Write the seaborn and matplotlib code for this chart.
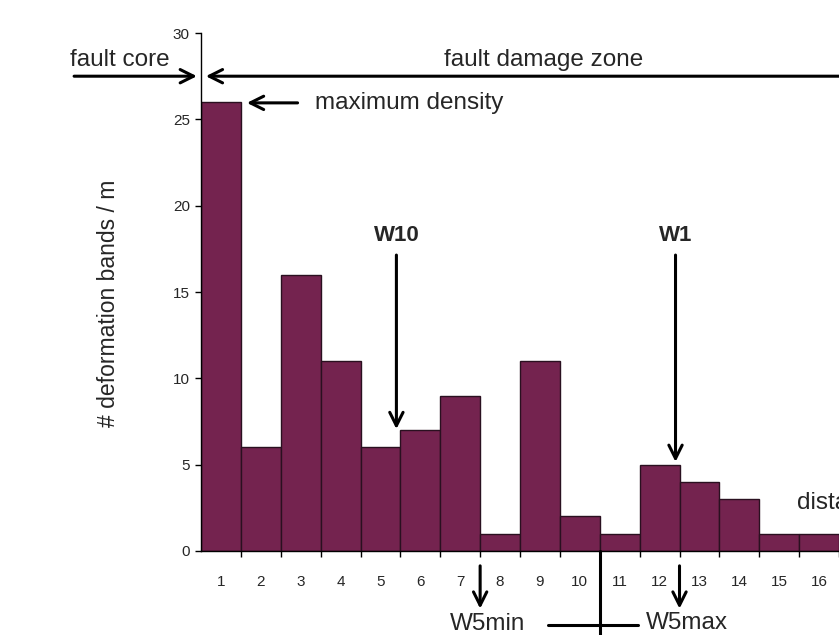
import matplotlib
matplotlib.use('Agg')
import matplotlib.pyplot as plt
import seaborn as sns
import pandas as pd

# distance bins (m) and deformation band density
distance = [str(i) for i in range(1, 17)]
density = [26, 6, 16, 11, 6, 7, 9, 1, 11, 2, 1, 5, 4, 3, 1, 1]
yticks = [0, 5, 10, 15, 20, 25, 30]

df = pd.DataFrame({'distance': distance, 'density': density})

sns.set_style('white')
plt.rcParams['font.family'] = ['Liberation Sans', 'DejaVu Sans']

fig = plt.figure(figsize=(8.39, 6.35), dpi=100)
ax = fig.add_axes([0.2396, 0.1323, 0.7604, 0.8157])

sns.barplot(data=df, x='distance', y='density', color='#74234F', saturation=1,
            width=1.0, edgecolor='#2a1020', linewidth=1.0, ax=ax)

ax.set_xlim(-0.5, len(distance) - 0.5)
ax.set_ylim(0, 30)
ax.set_yticks(yticks)
ax.set_xlabel('')
ax.set_ylabel('')
for s in ['top', 'right']:
    ax.spines[s].set_visible(False)
for s in ['left', 'bottom']:
    ax.spines[s].set_color('black')
    ax.spines[s].set_linewidth(1.0)

narrow = ['Liberation Sans Narrow', 'Liberation Sans', 'DejaVu Sans']
ax.tick_params(axis='y', length=4, width=1, color='black', direction='out', left=True, pad=4)
ax.tick_params(axis='x', length=0, pad=17)
ax.set_xticks([i + 0.5 for i in range(len(distance))], minor=True)
ax.tick_params(axis='x', which='minor', length=4, width=1, color='black', direction='out', bottom=True)
for lab in ax.get_xticklabels() + ax.get_yticklabels():
    lab.set_family(narrow)
    lab.set_fontsize(11)

fig.text(0.129, 0.523, '# deformation bands / m', rotation=90, ha='center', va='center', fontsize=16.5)

arrow = dict(arrowstyle='->', lw=2.2, color='black', mutation_scale=24)

# top arrows
fig.text(0.143, 0.906, 'fault core', ha='center', va='center', fontsize=17.5)
ax.annotate('', xy=(0.238, 0.880), xytext=(0.085, 0.880), xycoords='figure fraction', arrowprops=arrow)
ax.annotate('', xy=(0.242, 0.880), xytext=(1.01, 0.880), xycoords='figure fraction', arrowprops=arrow)
fig.text(0.648, 0.906, 'fault damage zone', ha='center', va='center', fontsize=17.5)

fig.text(0.375, 0.838, 'maximum density', ha='left', va='center', fontsize=17.5)
ax.annotate('', xy=(0.291, 0.838), xytext=(0.358, 0.838), xycoords='figure fraction', arrowprops=arrow)

# W10 / W1 window markers
ax.text(4.4, 18.3, 'W10', ha='center', va='center', fontsize=16, fontweight='bold')
ax.annotate('', xy=(4.4, 6.9), xytext=(4.4, 17.3), arrowprops=arrow)
ax.text(11.4, 18.3, 'W1', ha='center', va='center', fontsize=16, fontweight='bold')
ax.annotate('', xy=(11.4, 5.0), xytext=(11.4, 17.3), arrowprops=arrow)

fig.text(0.95, 0.208, 'distance (m)', ha='left', va='center', fontsize=17.5)

# W5 markers below the axis
ax.annotate('', xy=(6.5, -3.5), xytext=(6.5, -0.7), arrowprops=arrow, annotation_clip=False)
ax.annotate('', xy=(11.5, -3.5), xytext=(11.5, -0.7), arrowprops=arrow, annotation_clip=False)
ax.plot([9.5, 9.5], [0, -5.2], color='black', lw=2.2, clip_on=False)
ax.plot([8.2, 10.45], [-4.3, -4.3], color='black', lw=2.2, clip_on=False)
fig.text(0.581, 0.017, 'W5min', ha='center', va='center', fontsize=17.5)
fig.text(0.819, 0.019, 'W5max', ha='center', va='center', fontsize=17.5)

fig.savefig('out.png', dpi=100)
